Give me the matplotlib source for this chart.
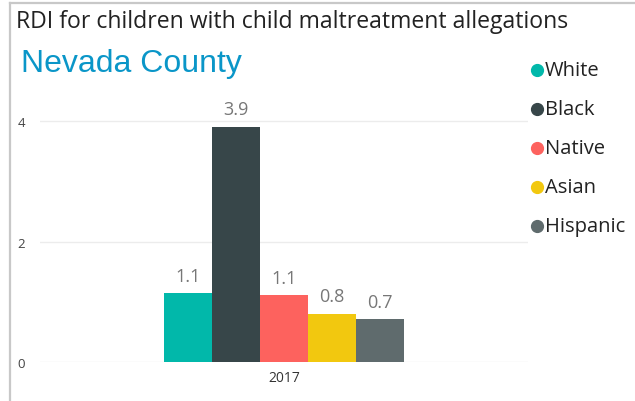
import matplotlib.pyplot as plt
from matplotlib.lines import Line2D

# data
races = ['White', 'Black', 'Native', 'Asian', 'Hispanic']
rdi = [1.14, 3.91, 1.11, 0.80, 0.71]
labels = ['1.1', '3.9', '1.1', '0.8', '0.7']
colors = ['#01B8AA', '#374649', '#FD625E', '#F2C80F', '#5F6B6D']
year = '2017'

W, H = 635, 402
fig = plt.figure(figsize=(W / 100, H / 100), dpi=100)

# frame around the visual
fig.add_artist(Line2D([10 / W, 10 / W], [0, 1 - 4 / H], color='#c8c8c8', lw=1.6))
fig.add_artist(Line2D([10 / W, 1], [1 - 4 / H, 1 - 4 / H], color='#c8c8c8', lw=1.6))

ax = fig.add_axes([40 / W, (H - 363) / H, (528 - 40) / W, (363 - 92) / H])

bw = 48 / 488 * 1.0
n = len(races)
xs = [0.5 + (i - (n - 1) / 2) * bw for i in range(n)]
ax.bar(xs, rdi, width=bw, color=colors)
for x, v, lab in zip(xs, rdi, labels):
    ax.annotate(lab, (x, v), xytext=(0, 6), textcoords='offset points',
                ha='center', va='bottom', fontsize=13, color='#777777',
                family='Open Sans')

ax.set_xlim(0, 1)
ax.set_ylim(0, 4.5)
ax.set_yticks([0, 2, 4])
ax.set_yticklabels(['0', '2', '4'], fontsize=9.5, color='#444444', family='Open Sans')
ax.set_xticks([0.5])
ax.set_xticklabels([year], fontsize=10, color='#333333', family='Open Sans')
ax.tick_params(length=0)
ax.tick_params(axis='y', pad=11)
ax.tick_params(axis='x', pad=6)
for s in ax.spines.values():
    s.set_visible(False)
ax.grid(axis='y', color='#ececec', lw=1)
ax.set_axisbelow(True)

fig.text(16 / W, 1 - 22 / H, 'RDI for children with child maltreatment allegations',
         fontsize=16.6, color='#222222', family='Open Sans', va='center', ha='left')
fig.text(21 / W, 1 - 64 / H, 'Nevada County', fontsize=23, color='#0A96C8',
         family='Liberation Sans', va='center', ha='left')

# legend
for i, (r, c) in enumerate(zip(races, colors)):
    y = 1 - (71 + i * 39) / H
    fig.add_artist(Line2D([537 / W], [y], marker='o', markersize=8.5, color=c, lw=0))
    fig.text(545 / W, y, r, fontsize=14.5, color='#222222', family='Open Sans',
             va='center', ha='left')

fig.savefig('out.png', dpi=100, facecolor='white')
